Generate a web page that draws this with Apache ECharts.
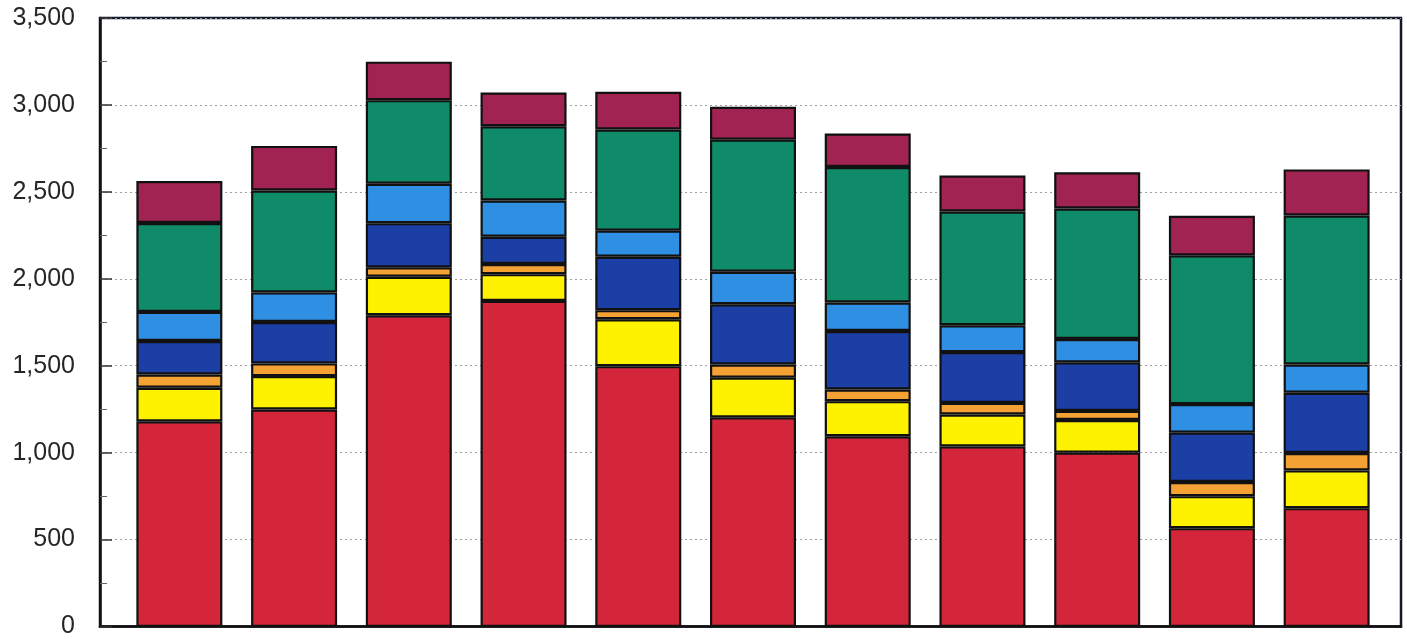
<!DOCTYPE html>
<html>
<head>
<meta charset="utf-8">
<script src="https://cdn.jsdelivr.net/npm/echarts@6/dist/echarts.min.js"></script>
<style>
  html, body { margin: 0; padding: 0; background: #fff; }
  #chart { width: 1407px; height: 639px; }
</style>
</head>
<body>
<div id="chart"></div>
<script>
// 11 bars, no x labels in the picture
const categories = ['1', '2', '3', '4', '5', '6', '7', '8', '9', '10', '11']

// stacked segments, bottom to top
const redValues = [1182, 1250, 1792, 1874, 1499, 1205, 1096, 1038, 1002, 568, 683]
const yellowValues = [193, 192, 221, 154, 270, 228, 202, 183, 188, 184, 217]
const orangeValues = [76, 73, 54, 58, 52, 76, 67, 67, 52, 81, 100]
const darkBlueValues = [193, 238, 254, 157, 307, 346, 336, 292, 279, 284, 346]
const lightBlueValues = [167, 170, 226, 208, 150, 187, 164, 154, 134, 164, 163]
const greenValues = [511, 586, 481, 427, 581, 759, 779, 654, 750, 855, 856]
const maroonValues = [241, 256, 221, 194, 217, 189, 192, 207, 208, 227, 265]

const yMin = 0
const yMax = 3500
const yStep = 500

const seriesDefs = [
  { name: 'red', data: redValues, color: '#d3263b' },
  { name: 'yellow', data: yellowValues, color: '#fff200' },
  { name: 'orange', data: orangeValues, color: '#f4a234' },
  { name: 'darkBlue', data: darkBlueValues, color: '#1c3fa6' },
  { name: 'lightBlue', data: lightBlueValues, color: '#2f8fe2' },
  { name: 'green', data: greenValues, color: '#108b69' },
  { name: 'maroon', data: maroonValues, color: '#a02352' }
]

const chart = echarts.init(document.getElementById('chart'))

chart.setOption({
  backgroundColor: '#ffffff',
  animation: false,
  // grid 0 = frame + y axis, grid 1 = bars (slightly narrower, like the original)
  grid: [
    {
      left: 100,
      right: 6,
      top: 18,
      bottom: 12,
      show: true,
      borderColor: '#141828',
      borderWidth: 2.5
    },
    {
      left: 122,
      right: 23,
      top: 18,
      bottom: 12
    }
  ],
  xAxis: [
    {
      gridIndex: 0,
      type: 'category',
      data: categories,
      axisLine: { show: true, lineStyle: { color: '#111', width: 2.5 } },
      axisTick: { show: false },
      axisLabel: { show: false },
      splitLine: { show: false }
    },
    {
      gridIndex: 1,
      type: 'category',
      data: categories,
      show: false
    }
  ],
  yAxis: [
    {
      gridIndex: 0,
      type: 'value',
      min: yMin,
      max: yMax,
      interval: yStep,
      axisLine: { show: true, lineStyle: { color: '#111', width: 2.5 } },
      axisTick: { show: true, inside: true, length: 12, lineStyle: { color: '#333', width: 1.5 } },
      minorTick: { show: true, splitNumber: 2, length: 7, lineStyle: { color: '#666' } },
      axisLabel: {
        color: '#262626',
        fontFamily: 'Liberation Sans',
        fontSize: 25,
        margin: 25,
        formatter: function(v) {
          return v.toLocaleString('en-US')
        }
      },
      splitLine: {
        show: true,
        lineStyle: { color: '#a0a0a0', width: 1, type: [2, 3] }
      }
    },
    {
      gridIndex: 1,
      type: 'value',
      min: yMin,
      max: yMax,
      interval: yStep,
      show: false,
      splitLine: { show: false }
    }
  ],
  series: seriesDefs.map(function(s) {
    return {
      name: s.name,
      type: 'bar',
      stack: 'total',
      xAxisIndex: 1,
      yAxisIndex: 1,
      barWidth: 86,
      itemStyle: {
        color: s.color,
        borderColor: '#111111',
        borderWidth: 2.2
      },
      data: s.data
    }
  })
})
</script>
</body>
</html>
